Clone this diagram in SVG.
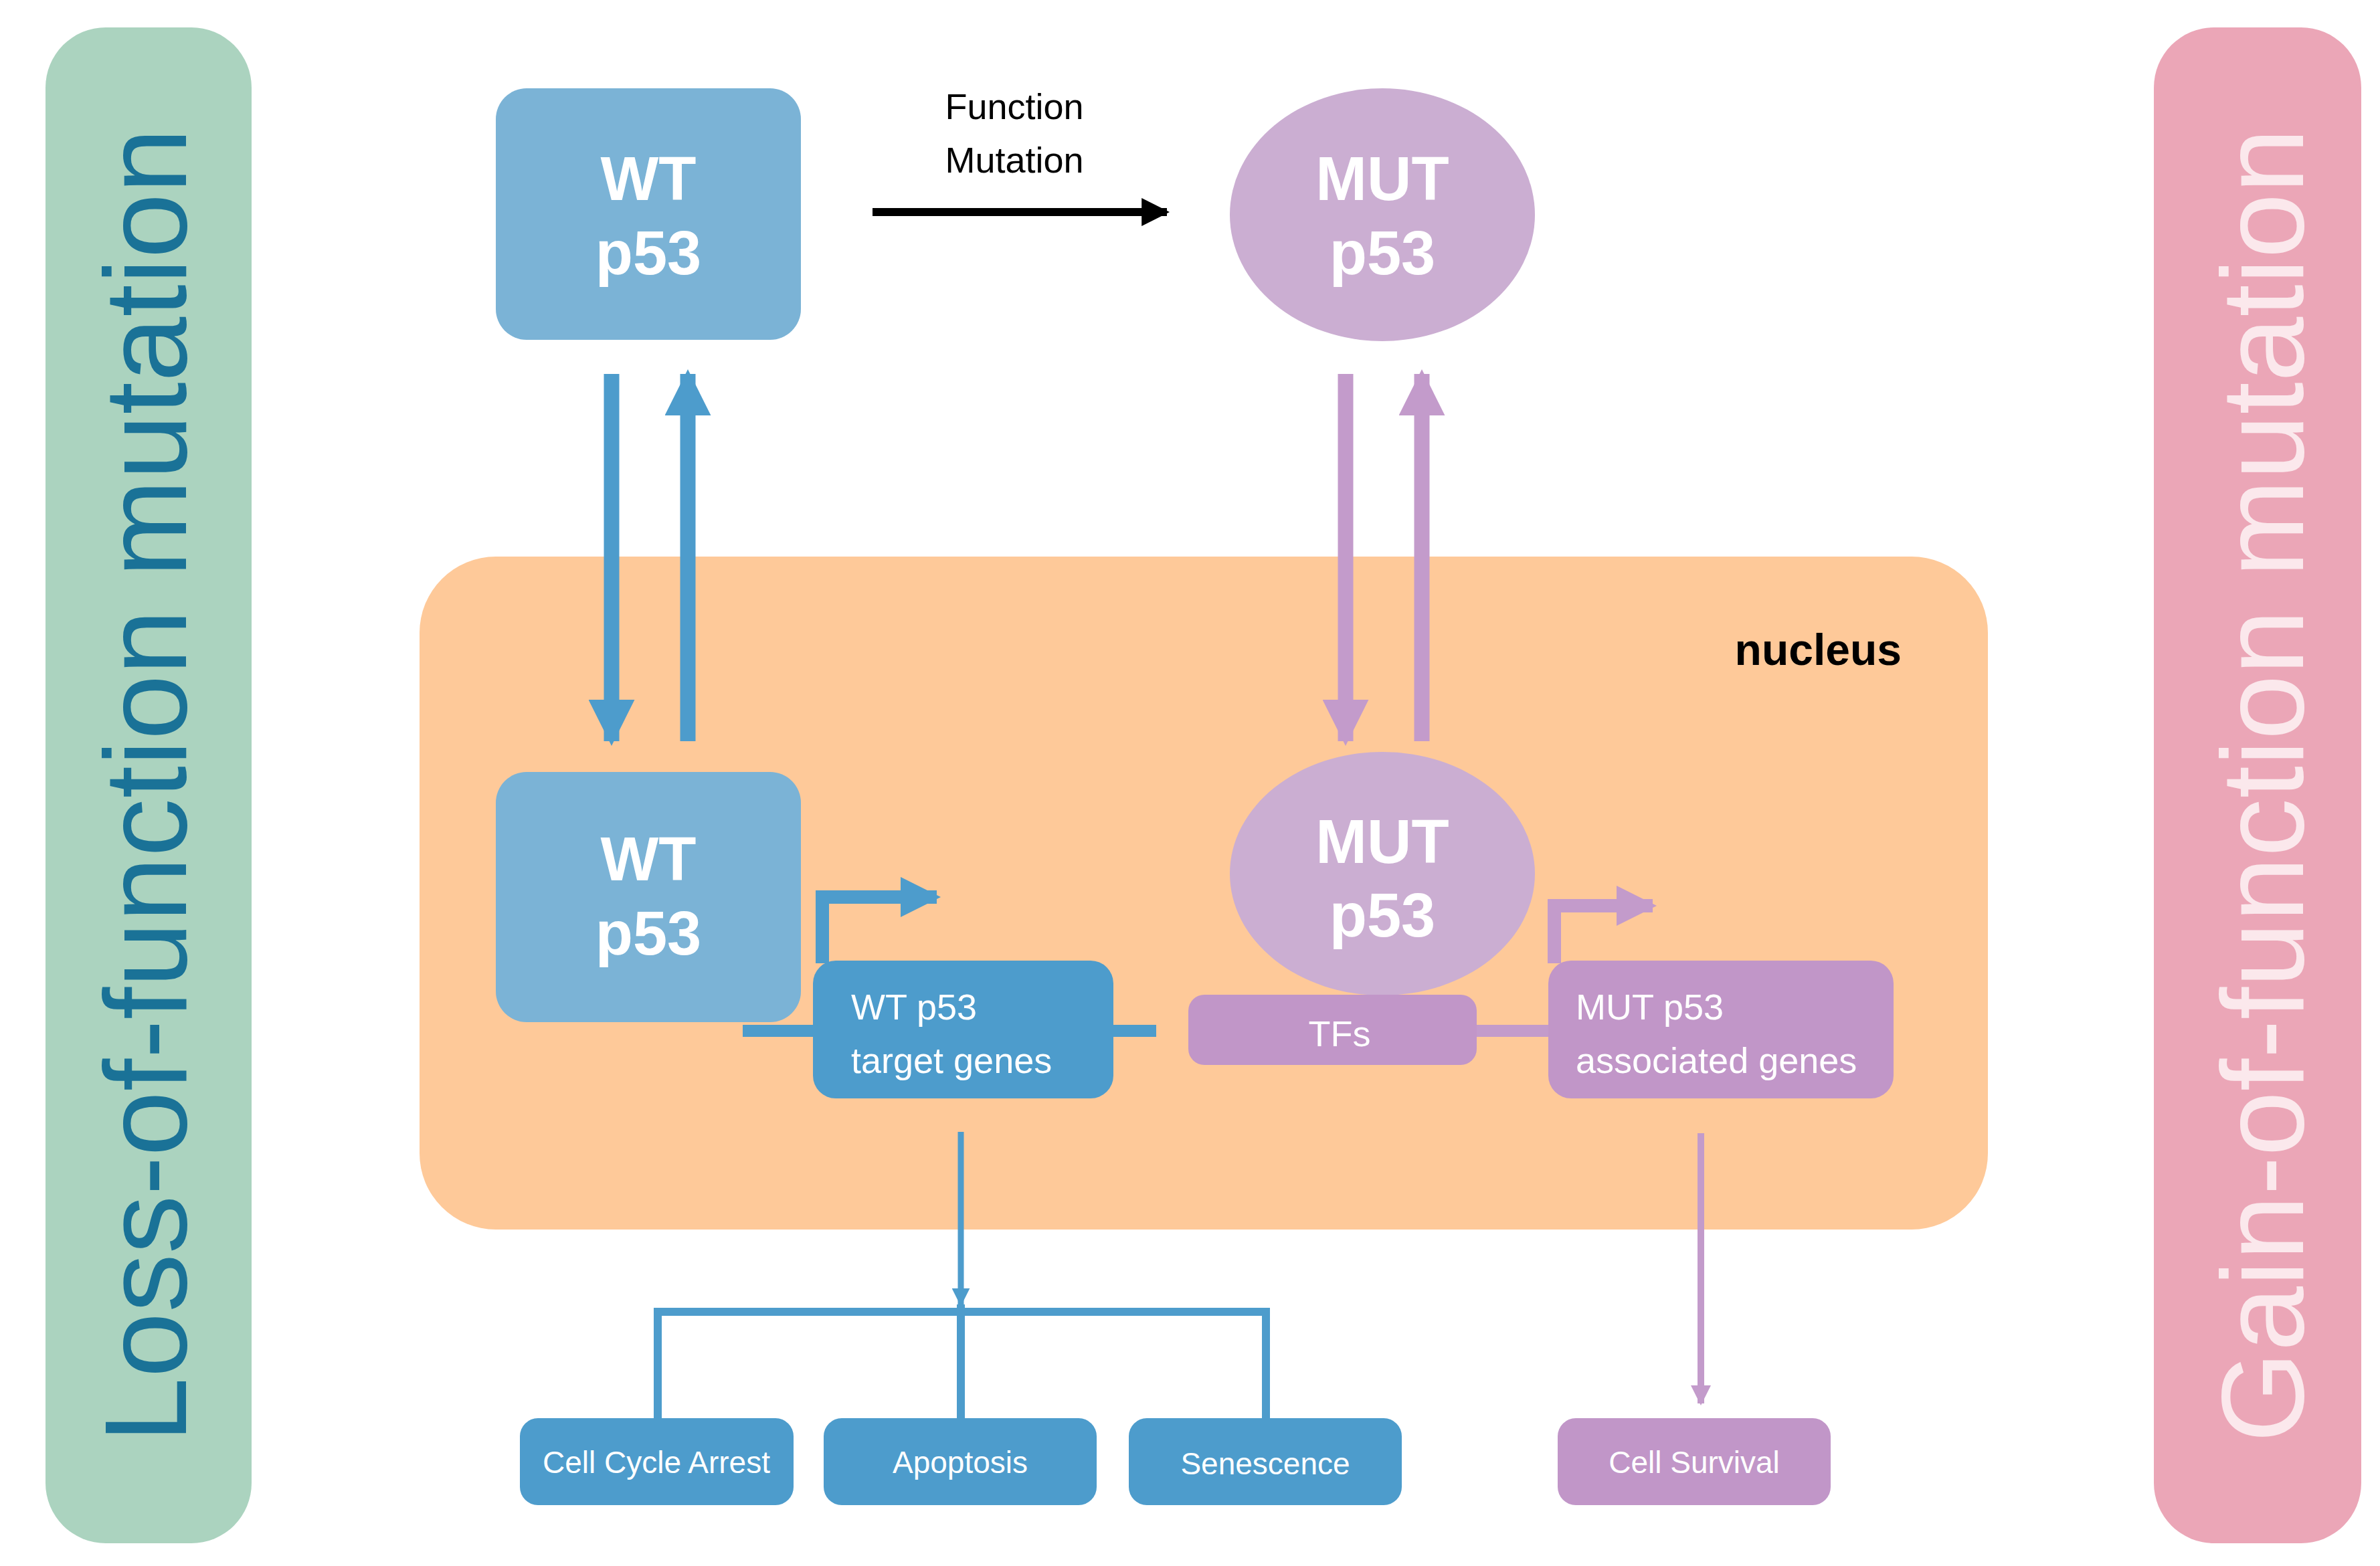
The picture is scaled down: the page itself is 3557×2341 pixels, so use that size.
<svg xmlns="http://www.w3.org/2000/svg" width="3557" height="2341" viewBox="0 0 3557 2341">
<style>
text{font-family:"Liberation Sans","DejaVu Sans",sans-serif}
.w{fill:#fff}
.big{font-size:92px;font-weight:bold;text-anchor:middle;fill:#fff}
.mid{font-size:54px;fill:#fff}
.sm{font-size:46px;fill:#fff;text-anchor:middle}
.bl{fill:#4d9ccc}
.pu{fill:#c196c8}
.lb{stroke:#4d9ccc;fill:none}
.lp{stroke:#c39bcb;fill:none}
</style>
<defs>
<marker id="ab" viewBox="0 0 10 10" refX="9" refY="5" markerWidth="3" markerHeight="3" orient="auto" markerUnits="strokeWidth"><path d="M0,0L10,5L0,10z" fill="#4d9ccc"/></marker>
<marker id="ap" viewBox="0 0 10 10" refX="9" refY="5" markerWidth="3" markerHeight="3" orient="auto" markerUnits="strokeWidth"><path d="M0,0L10,5L0,10z" fill="#c39bcb"/></marker>
<marker id="ak" viewBox="0 0 10 10" refX="9" refY="5" markerWidth="3.5" markerHeight="3.5" orient="auto" markerUnits="strokeWidth"><path d="M0,0L10,5L0,10z" fill="#000"/></marker>
</defs>
<rect width="3557" height="2341" fill="#fff"/>
<g id="loss"><rect x="68" y="41" width="308" height="2266" rx="90" fill="#abd3bf"/>
<text transform="translate(278,1174) rotate(-90)" font-size="175" text-anchor="middle" fill="#1a7297">Loss-of-function mutation</text></g>
<g id="gain"><rect x="3219" y="41" width="310" height="2266" rx="90" fill="#eba6b7"/>
<text transform="translate(3442,1174) rotate(-90)" font-size="175" text-anchor="middle" fill="#fbe8ec">Gain-of-function mutation</text></g>
<g id="nucleus"><rect x="627" y="832" width="2344" height="1006" rx="114" fill="#fec999"/>
<text x="2842" y="994" font-size="66" font-weight="bold" text-anchor="end" fill="#000">nucleus</text></g>
<g id="wt-top"><rect x="741" y="132" width="456" height="376" rx="46" fill="#7bb3d6"/>
<text class="big" x="969" y="299">WT</text><text class="big" x="969" y="410">p53</text></g>
<g id="mut-top"><ellipse cx="2066" cy="321" rx="228" ry="189" fill="#cbaed2"/>
<text class="big" x="2066" y="299">MUT</text><text class="big" x="2066" y="410">p53</text></g>
<g id="func-label"><text x="1516" y="178" font-size="54" text-anchor="middle">Function</text><text x="1516" y="258" font-size="54" text-anchor="middle">Mutation</text></g>
<g id="wt-nuc"><rect x="741" y="1154" width="456" height="374" rx="46" fill="#7bb3d6"/>
<text class="big" x="969" y="1316">WT</text><text class="big" x="969" y="1427">p53</text></g>
<g id="connectors">
<line x1="1304" y1="317" x2="1744" y2="317" stroke="#000" stroke-width="12" marker-end="url(#ak)"/>
<line class="lb" x1="914" y1="559" x2="914" y2="1108" stroke-width="23" marker-end="url(#ab)"/>
<line class="lb" x1="1028" y1="1108" x2="1028" y2="559" stroke-width="23" marker-end="url(#ab)"/>
<line class="lp" x1="2011" y1="559" x2="2011" y2="1108" stroke-width="23" marker-end="url(#ap)"/>
<line class="lp" x1="2125" y1="1108" x2="2125" y2="559" stroke-width="23" marker-end="url(#ap)"/>
<line class="lb" x1="1110" y1="1541" x2="1728" y2="1541" stroke-width="18"/>
<line class="lp" x1="2207" y1="1541" x2="2314" y2="1541" stroke-width="18"/>
<path class="lb" d="M1229,1440V1341H1400" stroke-width="20" marker-end="url(#ab)"/>
<path class="lp" d="M2323,1440V1354H2470" stroke-width="20" marker-end="url(#ap)"/>
<line class="lb" x1="1436" y1="1692" x2="1436" y2="1950" stroke-width="9" marker-end="url(#ab)"/>
<path class="lb" d="M983,2120V1961H1892V2120M1436,1950V2120" stroke-width="12"/>
<line class="lp" x1="2542" y1="1694" x2="2542" y2="2098" stroke-width="10" marker-end="url(#ap)"/>
</g>
<g id="mut-nuc"><ellipse cx="2066" cy="1306" rx="228" ry="182" fill="#cbaed2"/>
<text class="big" x="2066" y="1290">MUT</text><text class="big" x="2066" y="1400">p53</text></g>
<g id="wt-genes"><rect class="bl" x="1215" y="1436" width="449" height="206" rx="34"/>
<text class="mid" x="1272" y="1524">WT p53</text><text class="mid" x="1272" y="1604">target genes</text></g>
<g id="tfs"><rect class="pu" x="1776" y="1487" width="431" height="105" rx="24"/>
<text class="mid" x="2002" y="1564" text-anchor="middle">TFs</text></g>
<g id="mut-genes"><rect class="pu" x="2314" y="1436" width="516" height="206" rx="34"/>
<text class="mid" x="2355" y="1524">MUT p53</text><text class="mid" x="2355" y="1604">associated genes</text></g>
<g id="arrest"><rect class="bl" x="777" y="2120" width="409" height="130" rx="27"/><text class="sm" x="981" y="2202">Cell Cycle Arrest</text></g>
<g id="apoptosis"><rect class="bl" x="1231" y="2120" width="408" height="130" rx="27"/><text class="sm" x="1435" y="2202">Apoptosis</text></g>
<g id="senescence"><rect class="bl" x="1687" y="2120" width="408" height="130" rx="27"/><text class="sm" x="1891" y="2204">Senescence</text></g>
<g id="survival"><rect class="pu" x="2328" y="2120" width="408" height="130" rx="27"/><text class="sm" x="2532" y="2202">Cell Survival</text></g>
</svg>
